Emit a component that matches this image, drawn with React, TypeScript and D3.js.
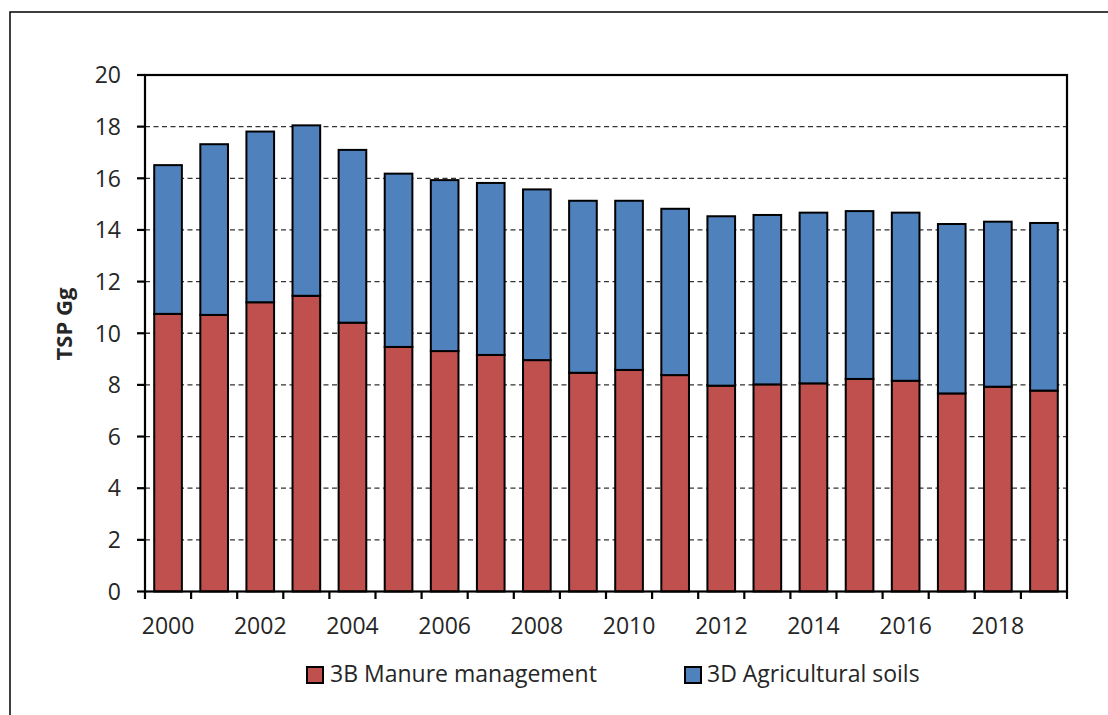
import React from "react";
import * as d3 from "d3";

const years = [2000,2001,2002,2003,2004,2005,2006,2007,2008,2009,2010,2011,2012,2013,2014,2015,2016,2017,2018,2019];
const manure = [10.75,10.71,11.2,11.45,10.41,9.47,9.31,9.16,8.96,8.47,8.58,8.38,7.97,8.02,8.06,8.23,8.16,7.67,7.93,7.78];
const totals = [16.51,17.32,17.81,18.05,17.1,16.18,15.93,15.82,15.57,15.13,15.13,14.82,14.53,14.58,14.67,14.73,14.67,14.23,14.32,14.27];
const soils = totals.map((t, i) => +(t - manure[i]).toFixed(2));
const yTicks = [0,2,4,6,8,10,12,14,16,18,20];
const xLabelYears = [2000,2002,2004,2006,2008,2010,2012,2014,2016,2018];
const seriesNames = ["3B Manure management", "3D Agricultural soils"];
const seriesColors = ["#C0504D", "#4F81BD"];

const W = 1108, H = 715;
const L = 145, R = 1067, T = 75, B = 591.5;
const FONT = "'Open Sans', 'Noto Sans', sans-serif";

export default function App() {
  const x = d3.scaleBand<number>().domain(years).range([L, R]).paddingInner(0.4).paddingOuter(0.2);
  const y = d3.scaleLinear().domain([0, 20]).range([B, T]);
  const bw = x.bandwidth();
  return (
    <svg width={W} height={H} style={{ position: "absolute", left: 0, top: 0, background: "#fff" }}>
      <rect x={10} y={12} width={1110} height={720} fill="#fff" stroke="#000" strokeWidth={1.5} />
      {yTicks.filter(v => v > 0 && v < 20).map(v => (
        <line key={v} x1={L} x2={R} y1={y(v)} y2={y(v)} stroke="#333" strokeWidth={1.3} strokeDasharray="5,3.5" />
      ))}
      {years.map((yr, i) => (
        <g key={yr}>
          <rect x={x(yr)} y={y(manure[i])} width={bw} height={y(0) - y(manure[i])} fill={seriesColors[0]} stroke="#000" strokeWidth={2} />
          <rect x={x(yr)} y={y(manure[i] + soils[i])} width={bw} height={y(manure[i]) - y(manure[i] + soils[i])} fill={seriesColors[1]} stroke="#000" strokeWidth={2} />
        </g>
      ))}
      <rect x={L} y={T} width={R - L} height={B - T} fill="none" stroke="#000" strokeWidth={2.2} />
      {yTicks.map(v => (
        <g key={v}>
          <line x1={L - 8} x2={L} y1={y(v)} y2={y(v)} stroke="#000" strokeWidth={2.2} />
          <text x={121} y={y(v)} dy="0.36em" textAnchor="end" fontFamily={FONT} fontSize={23} fill="#262626">{v}</text>
        </g>
      ))}
      {d3.range(years.length + 1).map(k => (
        <line key={k} x1={L + (R - L) / years.length * k} x2={L + (R - L) / years.length * k} y1={B} y2={B + 7.5} stroke="#000" strokeWidth={2.2} />
      ))}
      {xLabelYears.map(yr => (
        <text key={yr} x={(x(yr) as number) + bw / 2} y={634} textAnchor="middle" fontFamily={FONT} fontSize={23} fill="#262626">{yr}</text>
      ))}
      <text transform={`translate(72,324) rotate(-90)`} textAnchor="middle" fontFamily={FONT} fontSize={22} fontWeight="bold" fill="#262626">TSP Gg</text>
      <g>
        <rect x={307} y={667} width={16} height={16} fill={seriesColors[0]} stroke="#000" strokeWidth={2} />
        <text x={330} y={682} fontFamily={FONT} fontSize={23} fill="#262626">{seriesNames[0]}</text>
        <rect x={685} y={667} width={16} height={16} fill={seriesColors[1]} stroke="#000" strokeWidth={2} />
        <text x={707} y={682} fontFamily={FONT} fontSize={23} fill="#262626">{seriesNames[1]}</text>
      </g>
    </svg>
  );
}
